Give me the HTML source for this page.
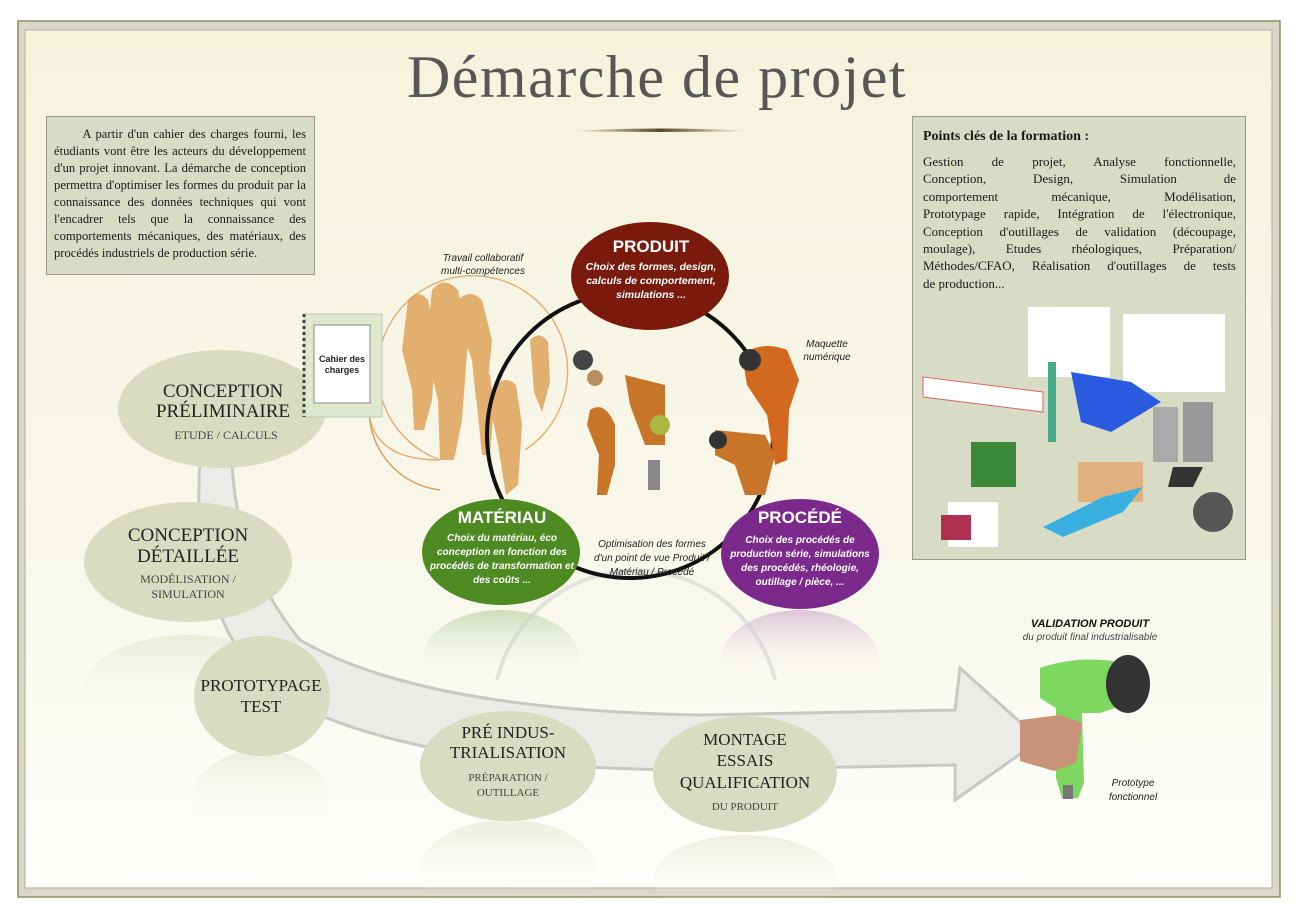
<!DOCTYPE html>
<html><head><meta charset="utf-8">
<style>
html,body{margin:0;padding:0;background:#fff;}
body{width:1300px;height:918px;overflow:hidden;position:relative;font-family:"Liberation Serif",serif;}
.box{position:absolute;background:#d9dcc4;border:1px solid #9a9a88;box-sizing:border-box;}
.l{display:block;text-align:justify;text-align-last:justify;white-space:nowrap;}
.last{text-align-last:left;}
</style></head><body>
<svg width="1300" height="918" viewBox="0 0 1300 918" style="position:absolute;left:0;top:0">
<defs>
<linearGradient id="bg" x1="0" y1="0" x2="0" y2="1">
<stop offset="0" stop-color="#f5f3dc"/><stop offset="0.6" stop-color="#f8f7ea"/><stop offset="1" stop-color="#fefefc"/>
</linearGradient>
<linearGradient id="fadeG" x1="0" y1="0" x2="0" y2="1"><stop offset="0" stop-color="#8fb46a" stop-opacity="0.4"/><stop offset="0.7" stop-color="#fff" stop-opacity="0"/></linearGradient>
<linearGradient id="fadeP" x1="0" y1="0" x2="0" y2="1"><stop offset="0" stop-color="#b07ab8" stop-opacity="0.4"/><stop offset="0.7" stop-color="#fff" stop-opacity="0"/></linearGradient>
<linearGradient id="fadeE" x1="0" y1="0" x2="0" y2="1"><stop offset="0" stop-color="#d9dcc0" stop-opacity="0.45"/><stop offset="0.8" stop-color="#fff" stop-opacity="0"/></linearGradient>
<linearGradient id="tline" x1="0" x2="1"><stop offset="0" stop-color="#6a5a3a" stop-opacity="0"/><stop offset="0.5" stop-color="#5a4a2a"/><stop offset="1" stop-color="#6a5a3a" stop-opacity="0"/></linearGradient>
</defs>
<rect x="18" y="21" width="1262" height="876" fill="#d8d7c8" stroke="#8e8e60" stroke-width="1.5"/>
<rect x="25" y="30" width="1247" height="858" fill="url(#bg)" stroke="#b0b09a" stroke-width="1"/>
<text x="657" y="97" text-anchor="middle" font-family="Liberation Serif,serif" font-size="60" fill="#575757" letter-spacing="1.5">Démarche de projet</text>
<path d="M570 131 Q660 126 750 131 Q660 133 570 131Z" fill="url(#tline)"/>

<!-- big arrow -->
<path d="M200 460 L232 460 Q235 560 300 640 Q420 710 700 715 L955 710 L960 668 L1040 740 L955 800 L955 765 L700 770 Q400 770 270 690 Q190 610 200 460Z" fill="#ebebe7" stroke="#c9c9c3" stroke-width="3"/>

<!-- reflections -->
<ellipse cx="501" cy="660" rx="79" ry="50" fill="url(#fadeG)"/>
<ellipse cx="800" cy="660" rx="79" ry="50" fill="url(#fadeP)"/>
<path d="M497 680 A143 143 0 0 1 775 680" fill="none" stroke="#ccc" stroke-width="4" opacity="0.5"/>
<ellipse cx="188" cy="690" rx="104" ry="55" fill="url(#fadeE)"/>
<ellipse cx="261" cy="800" rx="68" ry="50" fill="url(#fadeE)"/>
<ellipse cx="508" cy="870" rx="88" ry="50" fill="url(#fadeE)"/>
<ellipse cx="745" cy="880" rx="92" ry="45" fill="url(#fadeE)"/>

<!-- ellipses left -->
<ellipse cx="222" cy="409" rx="104" ry="59" fill="#d9dcc0"/>
<ellipse cx="188" cy="562" rx="104" ry="60" fill="#d9dcc0"/>
<ellipse cx="262" cy="696" rx="68" ry="60" fill="#d9dcc0"/>
<ellipse cx="508" cy="766" rx="88" ry="55" fill="#d9dcc0"/>
<ellipse cx="745" cy="774" rx="92" ry="58" fill="#d9dcc0"/>
<g font-family="Liberation Serif,serif" fill="#222" text-anchor="middle">
<text x="223" y="397" font-size="19">CONCEPTION</text>
<text x="223" y="417" font-size="19">PRÉLIMINAIRE</text>
<text x="226" y="439" font-size="12" fill="#444">ETUDE / CALCULS</text>
<text x="188" y="541" font-size="19">CONCEPTION</text>
<text x="188" y="562" font-size="19">DÉTAILLÉE</text>
<text x="188" y="583" font-size="12" fill="#444">MODÉLISATION /</text>
<text x="188" y="598" font-size="12" fill="#444">SIMULATION</text>
<text x="261" y="691" font-size="17">PROTOTYPAGE</text>
<text x="261" y="712" font-size="17">TEST</text>
<text x="508" y="738" font-size="17">PRÉ INDUS-</text>
<text x="508" y="758" font-size="17">TRIALISATION</text>
<text x="508" y="781" font-size="11" fill="#444">PRÉPARATION /</text>
<text x="508" y="796" font-size="11" fill="#444">OUTILLAGE</text>
<text x="745" y="745" font-size="17">MONTAGE</text>
<text x="745" y="766" font-size="17">ESSAIS</text>
<text x="745" y="788" font-size="17">QUALIFICATION</text>
<text x="745" y="810" font-size="11" fill="#444">DU PRODUIT</text>
</g>

<!-- people -->
<g fill="#e0a35a" opacity="0.85">
<path d="M408 300 q10-12 20 0 l8 40 l-4 60 l-8 30 l-10 0 l-2-40 l-10-40z"/>
<path d="M432 290 q12-15 26 0 l10 50 l-6 80 l-8 40 l-14 0 l-2-60 l-12-50z"/>
<path d="M458 300 q12-12 24 0 l10 40 l-6 60 l-10 0 l-4-40 l-14-40z"/>
<path d="M496 385 q10-10 20 0 l6 40 l-4 60 l-12 10 l-8-50 l-8-40z"/>
<path d="M474 375 q8-8 16 0 l4 30 l-4 50 l-8 0 l-4-40z"/>
<path d="M530 340 q10-10 18 2 l2 40 l-8 30 l-8-20z"/>
</g>
<path d="M525 450 A95 95 0 1 0 440 460 Q380 460 370 420" fill="none" stroke="#d9a060" stroke-width="1.5" opacity="0.8"/>
<path d="M370 400 A80 80 0 0 0 440 490" fill="none" stroke="#d9a060" stroke-width="1.5"/>

<!-- cahier -->
<rect x="304" y="314" width="78" height="103" fill="#dfe8cc" stroke="#c0c8b0"/>
<line x1="304" y1="314" x2="304" y2="417" stroke="#444" stroke-width="3" stroke-dasharray="3 3"/>
<rect x="314" y="325" width="56" height="78" fill="#fff" stroke="#888"/>
<text x="342" y="362" text-anchor="middle" font-family="Liberation Sans,sans-serif" font-size="9" font-weight="bold" fill="#222">Cahier des</text>
<text x="342" y="373" text-anchor="middle" font-family="Liberation Sans,sans-serif" font-size="9" font-weight="bold" fill="#222">charges</text>

<!-- ring -->
<circle cx="630" cy="435" r="143" fill="none" stroke="#111" stroke-width="4"/>

<!-- parts -->
<g>
<path d="M590 410 q15-10 25 15 l0 40 l-8 30 l-10 0 l2-40 l-12-30z" fill="#c8752a"/>
<path d="M625 375 l40 10 l0 60 l-20 0 l-15-40z" fill="#c8752a"/>
<circle cx="583" cy="360" r="10" fill="#444"/>
<circle cx="595" cy="378" r="8" fill="#b89060"/>
<circle cx="660" cy="425" r="10" fill="#a8b840"/>
<rect x="648" y="460" width="12" height="30" fill="#888"/>
<path d="M742 355 q20-15 45 -5 l12 30 l-10 30 l-2 50 l-12 5 l-8-50 l-20-30z" fill="#d2691e"/>
<circle cx="750" cy="360" r="11" fill="#333"/>
<path d="M715 430 l50 5 l10 20 l-10 40 l-20 0 l-10-30 l-20-10z" fill="#c8752a"/>
<circle cx="718" cy="440" r="9" fill="#333"/>
</g>

<!-- colored ellipses -->
<ellipse cx="650" cy="276" rx="79" ry="54" fill="#7a1a0c"/>
<ellipse cx="501" cy="552" rx="79" ry="53" fill="#4e8a22"/>
<ellipse cx="800" cy="554" rx="79" ry="55" fill="#7b2a8c"/>
<g font-family="Liberation Sans,sans-serif" fill="#fff" text-anchor="middle">
<text x="651" y="252" font-size="17" font-weight="bold">PRODUIT</text>
<g font-size="10.5" font-style="italic" font-weight="bold">
<text x="651" y="270">Choix des formes, design,</text>
<text x="651" y="284">calculs de comportement,</text>
<text x="651" y="298">simulations ...</text></g>
<text x="502" y="523" font-size="17" font-weight="bold">MATÉRIAU</text>
<g font-size="10" font-style="italic" font-weight="bold">
<text x="502" y="541">Choix du matériau, éco</text>
<text x="502" y="555">conception en fonction des</text>
<text x="502" y="569">procédés de transformation et</text>
<text x="502" y="583">des coûts ...</text></g>
<text x="800" y="523" font-size="17" font-weight="bold">PROCÉDÉ</text>
<g font-size="10" font-style="italic" font-weight="bold">
<text x="800" y="543">Choix des procédés de</text>
<text x="800" y="557">production série, simulations</text>
<text x="800" y="571">des procédés, rhéologie,</text>
<text x="800" y="585">outillage / pièce, ...</text></g>
</g>
<g font-family="Liberation Sans,sans-serif" fill="#222" text-anchor="middle" font-style="italic" font-size="10">
<text x="483" y="261">Travail collaboratif</text>
<text x="483" y="274">multi-compétences</text>
<text x="827" y="347">Maquette</text>
<text x="827" y="360">numérique</text>
<text x="652" y="547">Optimisation des formes</text>
<text x="652" y="561">d'un point de vue Produit /</text>
<text x="652" y="575">Matériau / Procédé</text>
<text x="1133" y="786">Prototype</text>
<text x="1133" y="800">fonctionnel</text>
<text x="1090" y="640" fill="#444">du produit final industrialisable</text>
<text x="1090" y="627" font-weight="bold" font-size="11" fill="#111">VALIDATION PRODUIT</text>
</g>

<!-- green gun -->
<path d="M1040 668 q40-14 85 -5 l5 40 l-30 10 l-18 0 l2 70 l-6 15 l-16 0 l-6-20 l0-70 l-16-10z" fill="#7ed860"/>
<ellipse cx="1128" cy="684" rx="22" ry="29" fill="#333"/>
<path d="M1020 720 l40-5 l22 8 l-6 40 l-22 8 l-34-10z" fill="#c9937a"/>
<rect x="1063" y="785" width="10" height="14" fill="#777"/>
</svg>

<div class="box" style="left:46px;top:116px;width:269px;height:159px;padding:9px 8px 0 7px;font-size:12.6px;line-height:17px;color:#1a1a1a;">
<span class="l">&nbsp;&nbsp;&nbsp;&nbsp;&nbsp;&nbsp;A partir d'un cahier des charges fourni, les</span>
<span class="l">étudiants vont être les acteurs du développement</span>
<span class="l">d'un projet innovant. La démarche de conception</span>
<span class="l">permettra d'optimiser les formes du produit par la</span>
<span class="l">connaissance des données techniques qui vont</span>
<span class="l">l'encadrer tels que la connaissance des</span>
<span class="l">comportements mécaniques, des matériaux, des</span>
<span class="l last">procédés industriels de production série.</span>
</div>

<div class="box" style="left:912px;top:116px;width:334px;height:444px;padding:12px 9px 0 10px;color:#1a1a1a;">
<div style="font-weight:bold;font-size:14px;margin-bottom:8px;">Points clés de la formation :</div>
<div style="font-size:13px;line-height:17.4px;">
<span class="l">Gestion de projet, Analyse fonctionnelle,</span>
<span class="l">Conception, Design, Simulation de</span>
<span class="l">comportement mécanique, Modélisation,</span>
<span class="l">Prototypage rapide, Intégration de l'électronique,</span>
<span class="l">Conception d'outillages de validation (découpage,</span>
<span class="l">moulage), Etudes rhéologiques, Préparation/</span>
<span class="l">Méthodes/CFAO, Réalisation d'outillages de tests</span>
<span class="l last">de production...</span>
</div>
<svg width="334" height="260" style="position:absolute;left:0;top:185px">
<rect x="115" y="5" width="82" height="70" fill="#fff"/>
<rect x="210" y="12" width="102" height="78" fill="#fff"/>
<path d="M10 75 L130 90 L130 110 L10 95Z" fill="#fff" stroke="#d66" stroke-width="1"/>
<rect x="135" y="60" width="8" height="80" fill="#4a8"/>
<path d="M158 70 l60 10 l30 20 l-50 30 l-30 -10z" fill="#2a5adf"/>
<rect x="58" y="140" width="45" height="45" fill="#3a8a3a"/>
<rect x="270" y="100" width="30" height="60" fill="#999"/>
<rect x="240" y="105" width="25" height="55" fill="#aaa"/>
<rect x="165" y="160" width="65" height="40" fill="#e0b080"/>
<path d="M130 225 l60-30 l40-10 l-20 25 l-60 25z" fill="#3ab0e0"/>
<rect x="35" y="200" width="50" height="45" fill="#fff"/>
<rect x="28" y="213" width="30" height="25" fill="#b03050"/>
<circle cx="300" cy="210" r="20" fill="#555"/>
<path d="M260 165 l30 0 l-10 20 l-25 0z" fill="#333"/>
</svg>
</div>
</body></html>
